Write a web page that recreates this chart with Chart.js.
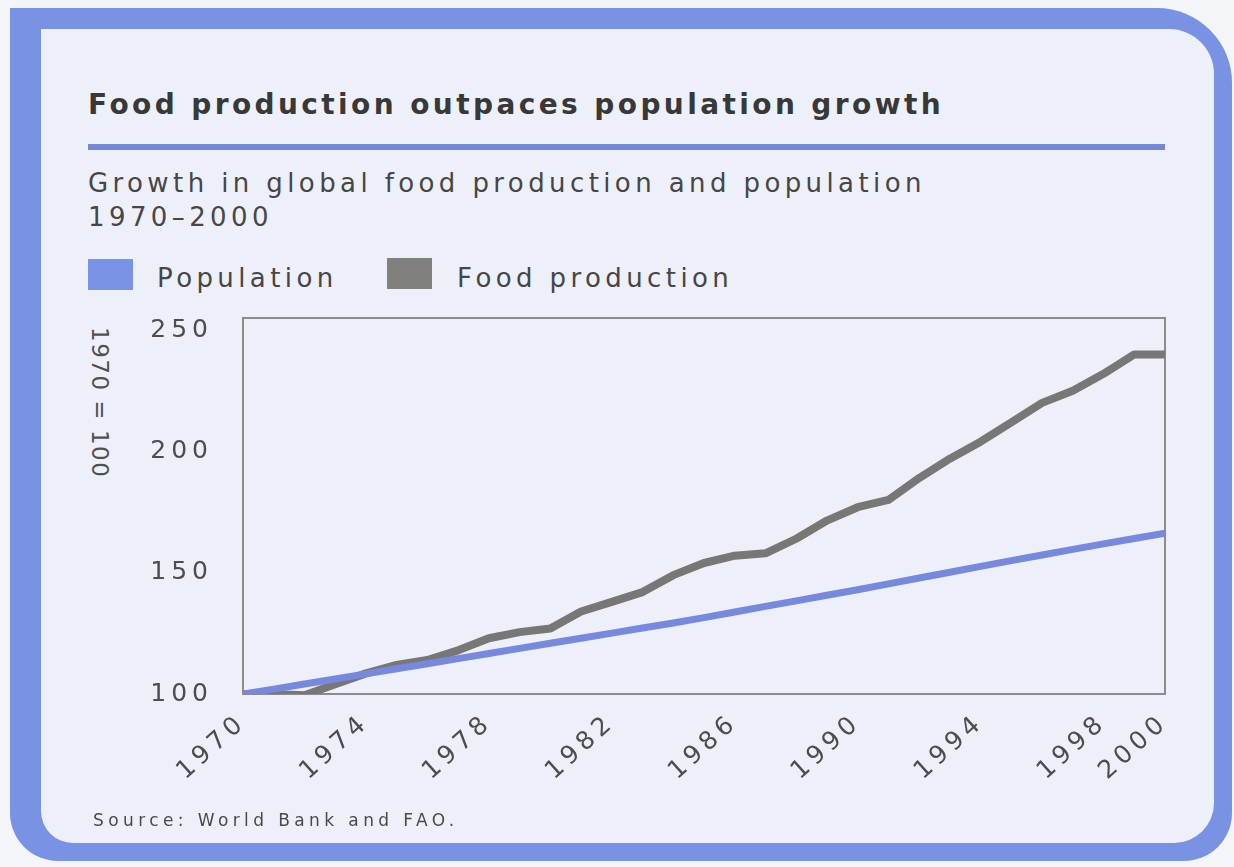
<!DOCTYPE html>
<html>
<head>
<meta charset="utf-8">
<title>Food production outpaces population growth</title>
<script src="https://cdn.jsdelivr.net/npm/chart.js@4"></script>
<style>
  html, body { margin: 0; padding: 0; }
  body {
    width: 1234px; height: 867px; position: relative; overflow: hidden;
    background: #f4f5f9;
    font-family: "DejaVu Sans", sans-serif;
  }
  #frame {
    position: absolute; left: 10px; top: 8px; width: 1222px; height: 853px;
    background: #7a92e4;
    border-radius: 0 75px 48px 48px;
  }
  #panel {
    position: absolute; left: 41px; top: 29px; width: 1173px; height: 814px;
    background: #eef0f9;
    border-radius: 0 45px 40px 32px;
  }
  .txt { position: absolute; white-space: nowrap; color: #464646; }
  #title {
    left: 88px; top: 91px; font-size: 28px; line-height: 28px;
    font-weight: bold; letter-spacing: 3.4px; color: #383838;
  }
  #rule {
    position: absolute; left: 88px; top: 144px; width: 1077px; height: 6px;
    background: #7489d6;
  }
  #subtitle {
    left: 88px; top: 166px; font-size: 26px; line-height: 34px; letter-spacing: 4.4px;
  }
  .swatch { position: absolute; width: 45px; height: 31px; }
  .legend-label { font-size: 26px; line-height: 34px; letter-spacing: 4.4px; top: 261px; }
  #ytitle {
    left: 87px; top: 327px; font-size: 23px; line-height: 26px; letter-spacing: 1.5px;
    writing-mode: vertical-rl; color: #505050;
  }
  #source {
    left: 93px; top: 810px; font-size: 17px; line-height: 20px; letter-spacing: 4.4px;
    color: #4a4a4a;
  }
  #chart { position: absolute; left: 0; top: 0; }
</style>
</head>
<body>
<div id="frame"></div>
<div id="panel"></div>

<div id="title" class="txt">Food production outpaces population growth</div>
<div id="rule"></div>
<div id="subtitle" class="txt">Growth in global food production and population<br>1970–2000</div>

<div class="swatch" style="left:88px; top:259px; background:#7b93e6;"></div>
<div class="txt legend-label" style="left:157px;">Population</div>
<div class="swatch" style="left:387px; top:258px; background:#80807c;"></div>
<div class="txt legend-label" style="left:457px;">Food production</div>

<div id="ytitle" class="txt">1970 = 100</div>

<canvas id="chart" width="1234" height="867"></canvas>

<div id="source" class="txt">Source: World Bank and FAO.</div>

<script>
const years = [1970, 1971, 1972, 1973, 1974, 1975, 1976, 1977, 1978, 1979,
               1980, 1981, 1982, 1983, 1984, 1985, 1986, 1987, 1988, 1989,
               1990, 1991, 1992, 1993, 1994, 1995, 1996, 1997, 1998, 1999, 2000];

// index, 1970 = 100
const population = [100, 102, 104.1, 106.2, 108.3, 110.4, 112.5, 114.6, 116.7, 118.8,
                    120.9, 123, 125.1, 127.2, 129.3, 131.5, 133.8, 136.1, 138.4, 140.7,
                    143, 145.4, 147.8, 150.2, 152.6, 155, 157.3, 159.6, 161.9, 164.1, 166.3];

const foodProduction = [100, 100, 99.5, 104, 108.5, 112, 114, 118, 123, 125.5,
                        127, 134, 138, 142, 149, 154, 157, 158, 164, 171.5,
                        177, 180, 189, 197, 204, 212, 220, 225, 232, 240, 240];

const xTickYears = [1970, 1974, 1978, 1982, 1986, 1990, 1994, 1998, 2000];
const yTickValues = [100, 150, 200, 250];

const TICK_COLOR = '#4d4d4d';
const tickFont = { family: 'DejaVu Sans', size: 25 };

// the print uses wide tracking, canvas text gets the same
const tracking = {
  id: 'tracking',
  beforeUpdate(chart) { chart.ctx.letterSpacing = '5px'; },
  beforeDraw(chart) { chart.ctx.letterSpacing = '5px'; }
};

// thin grey box around the plot area
const plotBox = {
  id: 'plotBox',
  beforeDatasetsDraw(chart) {
    const { ctx, chartArea: a } = chart;
    ctx.save();
    ctx.strokeStyle = '#8c8c8c';
    ctx.lineWidth = 2;
    ctx.strokeRect(a.left, a.top, a.right - a.left, a.bottom - a.top);
    ctx.restore();
  }
};

const toPoints = vals => years.map((yr, i) => ({ x: yr, y: vals[i] }));

new Chart(document.getElementById('chart'), {
  type: 'line',
  data: {
    datasets: [
      {
        label: 'Population',
        data: toPoints(population),
        borderColor: '#7789df',
        borderWidth: 7,
        pointRadius: 0,
        tension: 0,
        borderJoinStyle: 'round'
      },
      {
        label: 'Food production',
        data: toPoints(foodProduction),
        borderColor: '#777775',
        borderWidth: 8,
        pointRadius: 0,
        tension: 0,
        borderJoinStyle: 'round'
      }
    ]
  },
  options: {
    responsive: false,
    devicePixelRatio: 1,
    animation: false,
    layout: { padding: { left: 78, top: 318, right: 69, bottom: 53 } },
    plugins: {
      legend: { display: false },
      tooltip: { enabled: false }
    },
    scales: {
      x: {
        type: 'linear',
        min: 1970,
        max: 2000,
        grid: { display: false },
        border: { display: false },
        ticks: {
          autoSkip: false,
          minRotation: 42,
          maxRotation: 42,
          padding: 6,
          color: TICK_COLOR,
          font: tickFont,
          callback: v => String(v)
        },
        afterBuildTicks: scale => { scale.ticks = xTickYears.map(v => ({ value: v })); },
        afterFit: scale => {
          scale.height = 120;
          scale.paddingLeft = 0;
          scale.paddingRight = 0;
        }
      },
      y: {
        min: 100,
        max: 255,
        grid: { display: false },
        border: { display: false },
        ticks: {
          padding: 22,
          color: TICK_COLOR,
          font: tickFont,
          callback: v => String(v)
        },
        afterBuildTicks: scale => { scale.ticks = yTickValues.map(v => ({ value: v })); },
        afterFit: scale => {
          scale.width = 165;
          scale.paddingTop = 0;
          scale.paddingBottom = 0;
        }
      }
    }
  },
  plugins: [tracking, plotBox]
});
</script>
</body>
</html>
